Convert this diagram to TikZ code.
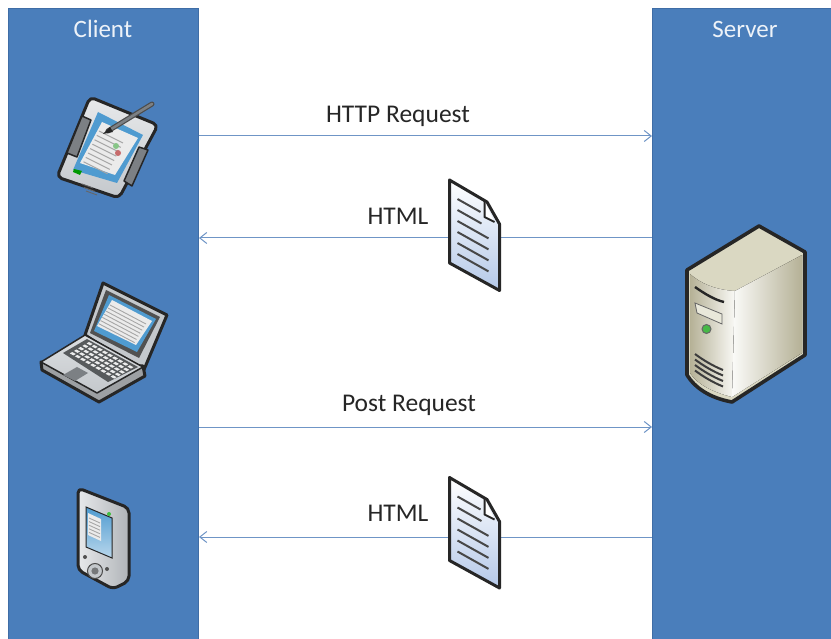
\documentclass[tikz,border=0pt]{standalone}
\usepackage{fontspec}
\setmainfont{Carlito}
\usetikzlibrary{arrows.meta}
\definecolor{panelblue}{HTML}{4A7EBB}
\definecolor{paneledge}{HTML}{3F6DA6}
\definecolor{flowblue}{HTML}{6F95C6}
\definecolor{inkdark}{HTML}{262626}
\definecolor{cream}{HTML}{DAD8C2}
\definecolor{creamdark}{HTML}{B5B196}
\definecolor{metal}{HTML}{C4C8CC}
\definecolor{metaldark}{HTML}{7C8084}
\definecolor{screenblue}{HTML}{4F9BD0}
\definecolor{pageblue}{HTML}{B4C8E8}
\tikzset{
  panel/.style={rectangle,draw=paneledge,line width=1pt,fill=panelblue,anchor=north west},
  paneltext/.style={font=\fontsize{25}{29}\selectfont,text=white!90!panelblue},
  flowtext/.style={font=\fontsize{25.5}{30}\selectfont,text=black!85},
  flow/.style={draw=flowblue,line width=1pt},
  flowtip/.style={flow,-{Straight Barb[length=7pt,width=11pt]}},
  outline/.style={draw=inkdark,line width=3pt,line join=round},
  thinline/.style={draw=#1,line width=0.9pt},
}
\begin{document}
\begin{tikzpicture}[x=1pt,y=-1pt]
  \def\htmlpage#1#2{
    \begin{scope}[shift={(#1,#2)}]
      \draw[outline,top color=white,bottom color=pageblue] (0,0) -- (37.5,22) -- (50,44) -- (50,110.5) -- (0,83) -- cycle;
      \draw[draw=inkdark,line width=2pt,line join=round,fill=white] (35,21) -- (35,37) -- (45,42);
      \foreach \i/\e in {0/31,1/32,2/39,3/39,4/39,5/39}
        \draw[draw=inkdark!85,line width=2pt] (8,{19+\i*11}) -- (\e,{32+\i*11+(\e-31)*0.55});
    \end{scope}
  }

  \useasboundingbox (0,0) rectangle (831,639);

  %panels
  \node[panel,minimum width=190pt,minimum height=650pt] (client) at (8,8){};
  \node[panel,minimum width=200pt,minimum height=650pt] (server) at (652,8){};
  \node[paneltext] (clienttext) at (103,29){Client};
  \node[paneltext] (servertext) at (745,29){Server};

  %connectors
  \coordinate (reqlevel) at (400,136);
  \coordinate (htmllevel) at (400,238);
  \coordinate (postlevel) at (400,427);
  \coordinate (replylevel) at (400,537);
  \draw[flowtip] (client.east |- reqlevel) -- (server.west |- reqlevel);
  \draw[flowtip] (server.west |- htmllevel) -- (client.east |- htmllevel);
  \draw[flowtip] (client.east |- postlevel) -- (server.west |- postlevel);
  \draw[flowtip] (server.west |- replylevel) -- (client.east |- replylevel);

  \node[flowtext] (reqtext) at (398,116){HTTP Request};
  \node[flowtext] (htmltext) at (398,216){HTML};
  \node[flowtext] (posttext) at (409,405){Post Request};
  \node[flowtext] (replytext) at (398,513){HTML};

  \htmlpage{449.5}{180}
  \htmlpage{449.5}{477.5}

  %tablet
  \draw[outline,rounded corners=5pt,top color=metal!40!white,bottom color=metal] (90,97) -- (158,125) -- (119,198) -- (57,177) -- cycle;
  \draw[draw=inkdark,line width=1.5pt,line join=round,fill=metaldark] (82,116) -- (91,120) -- (77,157) -- (67,153) -- cycle;
  \draw[draw=inkdark,line width=1.5pt,line join=round,fill=metaldark] (139,147) -- (148,150) -- (132,186) -- (124,181) -- cycle;
  \fill[screenblue] (98,112) -- (143,135) -- (117,183) -- (73,170) -- cycle;
  \fill[white!92!black] (102,122) -- (138,138) -- (115,175) -- (80,163) -- cycle;
  \fill[green!60!black] (74,169) -- (82,171) -- (80,175) -- (73,172) -- cycle;
  \foreach \i in {0,...,7}
    \draw[thinline=gray!70] ({99-\i*2.2},{131+\i*4.4}) -- ({123-\i*2.2},{143+\i*4.4});
  \fill[green!35!gray!70] (116,146) circle (3pt);
  \fill[red!45!gray!80] (118,153) circle (3pt);
  \foreach \i in {0,1,2}
    \draw[thinline=gray!80!black] ({82+\i*2},{184+\i*3.5}) -- ({93+\i*2},{188+\i*3.5});
  \draw[draw=black!70,line width=5pt,line cap=round] (152,104) -- (108,131);
  \draw[draw=metaldark,line width=2.6pt,line cap=round] (152,104) -- (108,131);
  \fill[inkdark] (110,127) -- (103,134) -- (113,132) -- cycle;

  %laptop
  \draw[outline,fill=metal] (103,283) -- (167,315) -- (143,372) -- (85,335) -- cycle;
  \fill[inkdark!80] (106,290) -- (160,317) -- (139,358) -- (90,333) -- cycle;
  \fill[screenblue] (109,295) -- (156,319) -- (137,352) -- (94,331) -- cycle;
  \fill[white!92!black] (112,300) -- (152,321) -- (136,345) -- (97,326) -- cycle;
  \foreach \i in {0,...,6}
    \draw[thinline=gray!70] ({110-\i*1.9},{305+\i*3.1}) -- ({146-\i*1.9},{324+\i*3.1});
  \draw[outline,fill=metal!80!black] (41,362) -- (42,370) -- (99,402) -- (145,376) -- (143,366) -- cycle;
  \draw[outline,line width=1.5pt,top color=metal!60!white,bottom color=metal] (85,335) -- (41,362) -- (97,393) -- (143,367) -- cycle;
  \fill[metaldark!70!black] (87,339) -- (138,367) -- (108,382) -- (63,353) -- cycle;
  \foreach \u in {0,...,8}
    \foreach \v in {0,...,4}
      \fill[white!85!gray] ({87+\u*5.1-\v*4.2+2},{342+\u*2.9+\v*2.5}) -- ++(3.6,2) -- ++(-2.4,1.4) -- ++(-3.6,-2) -- cycle;
  \fill[metaldark] (63,375) -- (77,367) -- (88,373) -- (75,381) -- cycle;

  %handheld
  \draw[outline,rounded corners=5pt,left color=metal!40!white,right color=metal!90!black] (78,488) -- (129,508) -- (129,581) -- (113,589) -- (78,570) -- cycle;
  \draw[draw=inkdark,line width=1pt,top color=screenblue,bottom color=screenblue!40!white] (86,507) -- (112,518) -- (112,558) -- (86,547) -- cycle;
  \fill[white!92!black] (88,513) -- (101,519) -- (101,541) -- (88,535) -- cycle;
  \foreach \i in {0,...,4}
    \draw[thinline=gray!70] (89,{518+\i*3.6}) -- (100,{523+\i*3.6});
  \fill[green!50!gray] (109,514) circle (2pt);
  \draw[draw=black!70,line width=1pt,fill=metal] (95,571) circle (7.5pt);
  \fill[metal!60!black] (95,571) circle (3.6pt);
  \fill[inkdark!80] (85,557) circle (2pt);
  \fill[inkdark!80] (107,569) circle (2pt);

  %server
  \draw[outline,line width=3.6pt,fill=cream] (759,226) -- (805,252) -- (805,355) -- (732,402) .. controls (710,398) and (695,388) .. (687,375) -- (687,270) -- cycle;
  \fill[cream] (690,274) -- (759,231) -- (802,255) -- (735,291) .. controls (715,290) and (700,283) .. (690,274) -- cycle;
  \fill[left color=creamdark,right color=white!85!cream] (690,274) .. controls (700,283) and (715,290) .. (735,291) -- (732,397) .. controls (713,392) and (698,385) .. (690,373) -- cycle;
  \fill[left color=white!90!cream,right color=creamdark] (735,291) -- (802,255) -- (802,353) -- (732,397) -- cycle;
  \draw[draw=inkdark,line width=2.4pt] (695,287) .. controls (705,294) and (715,300) .. (724,302);
  \draw[draw=gray!80!black,line width=0.8pt,fill=cream!60!white] (695,303) -- (722,314) -- (722,324) -- (697,313) -- cycle;
  \draw[draw=black!60,line width=1pt,fill=green!45!gray] (706.5,329) circle (4.5pt);
  \foreach \i in {0,1,2,3}
    \draw[draw=inkdark!90,line width=2pt] (695,{354+\i*5.5}) .. controls (703,{360+\i*5.5}) and (713,{366+\i*5.5}) .. (723,{370+\i*5.5});
\end{tikzpicture}
\end{document}
